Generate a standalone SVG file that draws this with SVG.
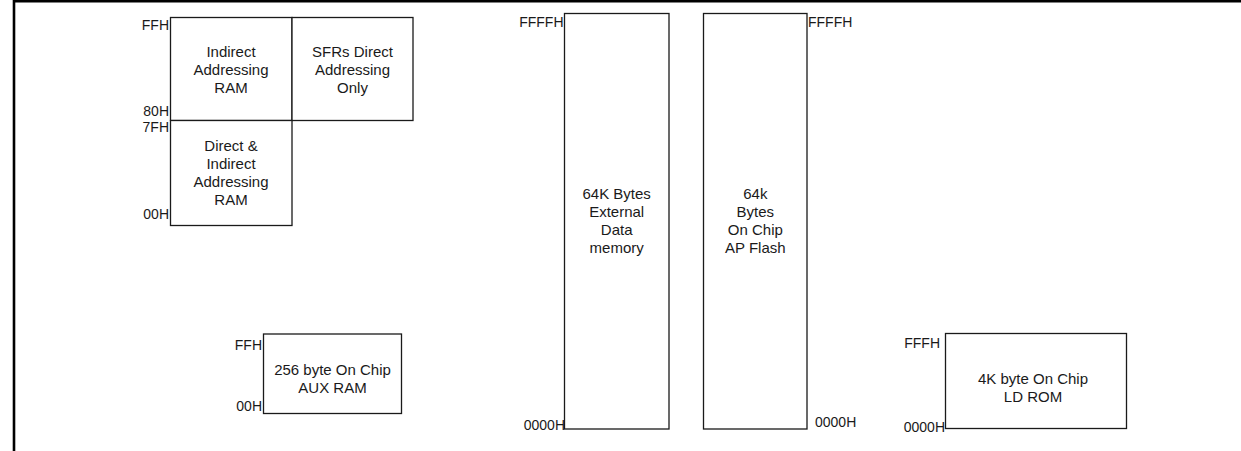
<svg xmlns="http://www.w3.org/2000/svg" width="1241" height="451" viewBox="0 0 1241 451">
<style>
  .box { fill: #ffffff; stroke: #1a1a1a; stroke-width: 1.3; }
  .frame { stroke: #000000; stroke-width: 2.6; fill: none; }
  text { font-family: "Liberation Sans", Arial, sans-serif; fill: #1a1a1a; }
  .t { font-size: 15px; text-anchor: middle; }
  .lr { font-size: 14px; text-anchor: end; }
  .ll { font-size: 14px; text-anchor: start; }
</style>
<rect width="1241" height="451" fill="#ffffff"/>
<g id="frame">
  <path class="frame" d="M14,451 V1.3 H1241"/>
</g>
<g id="connectors"></g>
<g id="indirect-ram">
  <rect class="box" x="170.5" y="17.5" width="121.5" height="103"/>
  <text class="t" x="231" y="57">Indirect</text>
  <text class="t" x="231" y="75">Addressing</text>
  <text class="t" x="231" y="93">RAM</text>
</g>
<g id="sfr">
  <rect class="box" x="292" y="17.5" width="121" height="103"/>
  <text class="t" x="352.5" y="57">SFRs Direct</text>
  <text class="t" x="352.5" y="75">Addressing</text>
  <text class="t" x="352.5" y="93">Only</text>
</g>
<g id="direct-ram">
  <rect class="box" x="170.5" y="120.5" width="121.5" height="105"/>
  <text class="t" x="231" y="151">Direct &amp;</text>
  <text class="t" x="231" y="169">Indirect</text>
  <text class="t" x="231" y="187">Addressing</text>
  <text class="t" x="231" y="205">RAM</text>
</g>
<g id="ram-labels">
  <text class="lr" x="169" y="30">FFH</text>
  <text class="lr" x="169" y="116">80H</text>
  <text class="lr" x="169" y="132">7FH</text>
  <text class="lr" x="169" y="219">00H</text>
</g>
<g id="aux-ram">
  <rect class="box" x="263.5" y="334" width="138" height="79.5"/>
  <text class="t" x="332.5" y="374.5">256 byte On Chip</text>
  <text class="t" x="332.5" y="392.5">AUX RAM</text>
  <text class="lr" x="262" y="350">FFH</text>
  <text class="lr" x="262" y="410.5">00H</text>
</g>
<g id="ext-data">
  <rect class="box" x="564.5" y="13.5" width="104.5" height="415.5"/>
  <text class="t" x="616.7" y="198.5">64K Bytes</text>
  <text class="t" x="616.7" y="216.8">External</text>
  <text class="t" x="616.7" y="235">Data</text>
  <text class="t" x="616.7" y="253.3">memory</text>
  <text class="lr" x="563.5" y="27">FFFFH</text>
  <text class="lr" x="565" y="429.5">0000H</text>
</g>
<g id="ap-flash">
  <rect class="box" x="703.5" y="13.5" width="103.5" height="415.5"/>
  <text class="t" x="755.3" y="198.5">64k</text>
  <text class="t" x="755.3" y="216.8">Bytes</text>
  <text class="t" x="755.3" y="235">On Chip</text>
  <text class="t" x="755.3" y="253.3">AP Flash</text>
  <text class="ll" x="808" y="27">FFFFH</text>
  <text class="ll" x="815" y="426.5">0000H</text>
</g>
<g id="ld-rom">
  <rect class="box" x="945.5" y="333.5" width="181" height="95"/>
  <text class="t" x="1033" y="383.5">4K byte On Chip</text>
  <text class="t" x="1033" y="402">LD ROM</text>
  <text class="lr" x="940" y="348">FFFH</text>
  <text class="lr" x="945" y="431.5">0000H</text>
</g>
</svg>
